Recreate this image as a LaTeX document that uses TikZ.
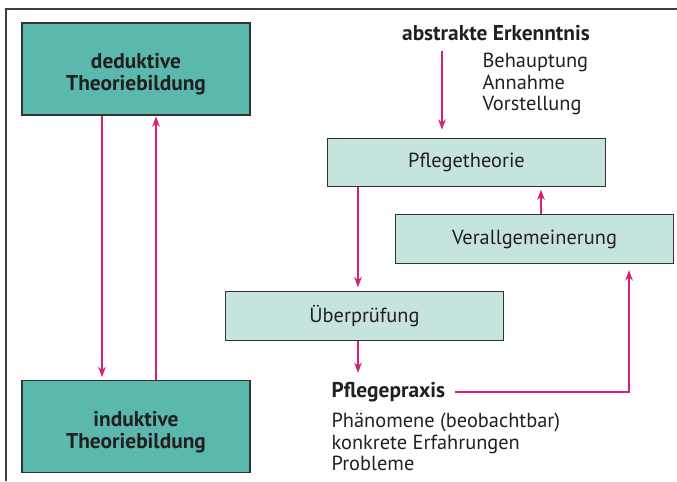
\documentclass[tikz,border=0pt]{standalone}
\usepackage{fontspec}
\setmainfont{PT Sans}
\usetikzlibrary{arrows.meta}
\definecolor{tuerkis}{HTML}{5AB8AC}
\definecolor{hellgruen}{HTML}{C5E4DE}
\definecolor{pfeilrot}{HTML}{D5207A}
\definecolor{schrift}{HTML}{231F20}

\begin{document}
\begin{tikzpicture}[x=0.025cm,y=-0.025cm,line width=0.8pt,>={Stealth[length=2.6mm,width=1.9mm]},
  font=\fontsize{14.5}{15.3}\selectfont,text=schrift,
  fett/.style={font=\fontsize{15.2}{15.6}\selectfont\bfseries},
  kasten/.style={draw=black!80,fill=hellgruen,minimum width=6.95cm,minimum height=1.21cm},
  dunkel/.style={draw=black!80,fill=tuerkis,minimum width=5.7cm,minimum height=2.3cm},
  dtext/.style={fett,align=center,yshift=-0.13cm},
  pfeil/.style={->,draw=pfeilrot,line width=1.42pt}]
  \useasboundingbox (0,0) rectangle (677,481);
  % rahmen
  \draw[black!75,line width=1pt] (6,481) -- (6,9) -- (677,9);
  % links: deduktiv / induktiv
  \node[dunkel,label={[dtext]center:deduktive\\Theoriebildung}] (ded) at (136,69) {};
  \node[dunkel,label={[dtext]center:induktive\\Theoriebildung}] (ind) at (136,426.5) {};
  \draw[pfeil,shorten >=0.07cm] ([xshift=-0.85cm]ded.south) -- ([xshift=-0.85cm]ded.south |- ind.north);
  \draw[pfeil,shorten >=0.02cm] ([xshift=0.5cm]ind.north) -- ([xshift=0.5cm]ind.north |- ded.south);
  % rechts: theorie und praxis
  \node[fett] (ae) at (496,33) {abstrakte Erkenntnis};
  \node[anchor=west,align=left,inner xsep=0pt] (beh) at (482,84) {Behauptung\\Annahme\\Vorstellung};
  \node[kasten] (pt) at (466.5,162.5) {Pflegetheorie};
  \node[kasten] (vg) at (534.5,239) {Verallgemeinerung};
  \node[kasten] (ueb) at (364.5,316) {Überprüfung};
  \node[anchor=west,inner xsep=0pt,fett] (pp) at (331,392) {Pflegepraxis};
  \node[anchor=west,align=left,inner xsep=0pt] (phae) at (331,442) {Phänomene (beobachtbar)\\konkrete Erfahrungen\\Probleme};
  \draw[pfeil,shorten <=0.12cm,shorten >=0.2cm] ([xshift=-1.35cm]ae.south) -- ([xshift=-1.35cm]ae.south |- pt.north);
  \draw[pfeil,shorten >=0.1cm] ([xshift=-2.7125cm]pt.south) -- ([xshift=-2.7125cm]pt.south |- ueb.north);
  \draw[pfeil,shorten >=0.06cm] ([xshift=0.1625cm]vg.north) -- ([xshift=0.1625cm]vg.north |- pt.south);
  \draw[pfeil,shorten >=0.1cm] ([xshift=-0.1625cm]ueb.south) -- ([xshift=-0.1625cm]ueb.south |- pp.north);
  \draw[pfeil,shorten <=0.22cm,shorten >=0.16cm] (pp.east) -| ([xshift=2.3625cm]vg.south);
\end{tikzpicture}
\end{document}
